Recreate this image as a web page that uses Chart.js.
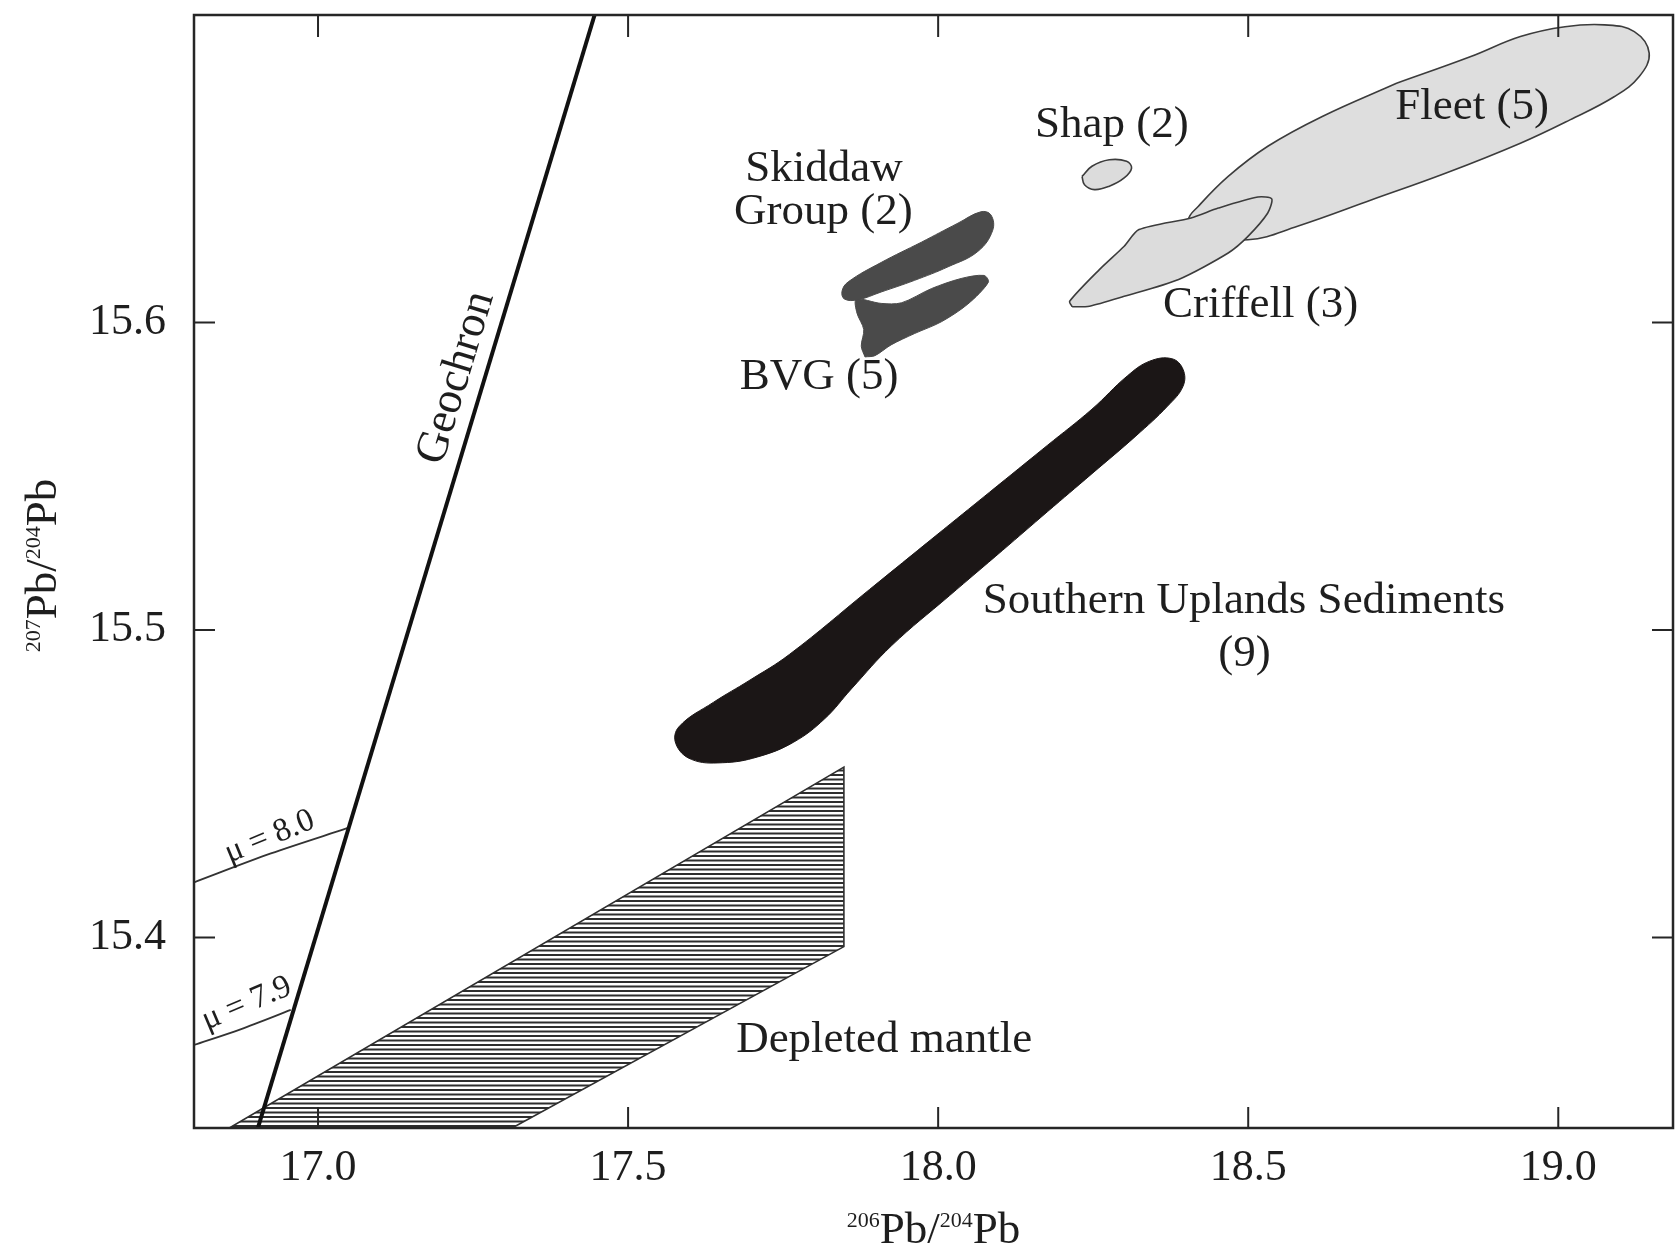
<!DOCTYPE html>
<html>
<head>
<meta charset="utf-8">
<title>Pb isotope fields</title>
<script src="https://cdn.jsdelivr.net/npm/chart.js@4.4.1/dist/chart.umd.min.js"></script>
<style>
  html, body { margin: 0; padding: 0; background: #fff; }
  #wrap { width: 1679px; height: 1257px; }
</style>
</head>
<body>
<div id="wrap"><canvas id="pbChart"></canvas></div>
<script>
// axes
const xRange = [16.8, 19.185];
const yRange = [15.338, 15.70];
const xTicks = [17.0, 17.5, 18.0, 18.5, 19.0];
const yTicks = [15.4, 15.5, 15.6];

// reference lines
const geochron = [{x: 16.903, y: 15.338}, {x: 17.446, y: 15.70}];
const mu80 = [{x: 16.8, y: 15.4179}, {x: 16.924, y: 15.4273}, {x: 17.047, y: 15.4355}];
const mu79 = [{x: 16.8, y: 15.365}, {x: 16.875, y: 15.3701}, {x: 16.956, y: 15.3764}];

// field outlines
const fleet = [
  {x: 18.7392, y: 15.6778}, {x: 18.6194, y: 15.6670}, {x: 18.5316, y: 15.6573}, {x: 18.4677, y: 15.6475},
  {x: 18.4197, y: 15.6378}, {x: 18.4038, y: 15.6334}, {x: 18.4197, y: 15.6291}, {x: 18.4996, y: 15.6269},
  {x: 18.5795, y: 15.6313}, {x: 18.6993, y: 15.6399}, {x: 18.8191, y: 15.6486}, {x: 18.9389, y: 15.6583},
  {x: 19.0188, y: 15.6659}, {x: 19.0907, y: 15.6735}, {x: 19.1306, y: 15.6800}, {x: 19.1466, y: 15.6876},
  {x: 19.1226, y: 15.6946}, {x: 19.0747, y: 15.6968}, {x: 19.0108, y: 15.6962}, {x: 18.9389, y: 15.6930},
  {x: 18.8590, y: 15.6865}
];
const criffell = [
  {x: 18.2161, y: 15.6051}, {x: 18.2121, y: 15.6069}, {x: 18.2600, y: 15.6172}, {x: 18.3000, y: 15.6248},
  {x: 18.3239, y: 15.6302}, {x: 18.4078, y: 15.6340}, {x: 18.4517, y: 15.6372}, {x: 18.5156, y: 15.6408},
  {x: 18.5379, y: 15.6402}, {x: 18.5315, y: 15.6356}, {x: 18.4996, y: 15.6280}, {x: 18.4677, y: 15.6226},
  {x: 18.3878, y: 15.6140}, {x: 18.3000, y: 15.6085}, {x: 18.2441, y: 15.6053}
];
const shap = [
  {x: 18.2320, y: 15.6475}, {x: 18.2360, y: 15.6448}, {x: 18.2520, y: 15.6432}, {x: 18.2760, y: 15.6443},
  {x: 18.3000, y: 15.6470}, {x: 18.3119, y: 15.6502}, {x: 18.3039, y: 15.6524}, {x: 18.2760, y: 15.6529},
  {x: 18.2480, y: 15.6508}
];
const skiddaw = [
  {x: 17.973, y: 15.6261}, {x: 18.032, y: 15.6323}, {x: 18.069, y: 15.6360}, {x: 18.085, y: 15.6350},
  {x: 18.088, y: 15.6300}, {x: 18.064, y: 15.6231}, {x: 18.016, y: 15.6181}, {x: 17.962, y: 15.6137},
  {x: 17.908, y: 15.6099}, {x: 17.871, y: 15.6074}, {x: 17.849, y: 15.6076}, {x: 17.845, y: 15.6102},
  {x: 17.855, y: 15.6132}, {x: 17.908, y: 15.6195}
];
const bvg = [
  {x: 17.882, y: 15.5888}, {x: 17.876, y: 15.5923}, {x: 17.880, y: 15.5977}, {x: 17.869, y: 15.6031},
  {x: 17.868, y: 15.6075}, {x: 17.908, y: 15.6062}, {x: 17.941, y: 15.6064}, {x: 17.989, y: 15.6110},
  {x: 18.037, y: 15.6143}, {x: 18.074, y: 15.6153}, {x: 18.081, y: 15.6131}, {x: 18.048, y: 15.6060},
  {x: 18.005, y: 15.6002}, {x: 17.962, y: 15.5964}, {x: 17.924, y: 15.5927}, {x: 17.898, y: 15.5892}
];
const uplands = [
  {x: 17.996, y: 15.5306}, {x: 18.083, y: 15.5448}, {x: 18.176, y: 15.5600}, {x: 18.248, y: 15.5718},
  {x: 18.305, y: 15.5826}, {x: 18.341, y: 15.5874}, {x: 18.377, y: 15.5882}, {x: 18.395, y: 15.5847},
  {x: 18.395, y: 15.5793}, {x: 18.370, y: 15.5728}, {x: 18.319, y: 15.5631}, {x: 18.248, y: 15.5508},
  {x: 18.176, y: 15.5384}, {x: 18.104, y: 15.5259}, {x: 18.018, y: 15.5111}, {x: 17.925, y: 15.4949},
  {x: 17.860, y: 15.4808}, {x: 17.817, y: 15.4711}, {x: 17.767, y: 15.4635}, {x: 17.709, y: 15.4587},
  {x: 17.652, y: 15.4568}, {x: 17.602, y: 15.4579}, {x: 17.577, y: 15.4630}, {x: 17.582, y: 15.4685},
  {x: 17.638, y: 15.4765}, {x: 17.695, y: 15.4835}, {x: 17.760, y: 15.4920}, {x: 17.889, y: 15.5131}
];
const depleted = [
  {x: 16.857, y: 15.338}, {x: 17.848, y: 15.4554}, {x: 17.848, y: 15.397}, {x: 17.313, y: 15.338}
];

// text labels (centres, data units)
const labelText = ['Skiddaw', 'Group (2)', 'BVG (5)', 'Shap (2)', 'Fleet (5)', 'Criffell (3)',
                   'Southern Uplands Sediments', '(9)', 'Depleted mantle'];
const labelX = [17.816, 17.815, 17.808, 18.280, 18.861, 18.520, 18.493, 18.494, 17.913];
const labelY = [15.6497, 15.636, 15.5821, 15.6643, 15.6701, 15.6055, 15.5094, 15.4922, 15.3666];
const geoLabel = {x: 17.223, y: 15.582};
const mu80Label = {x: 16.922, y: 15.4327};
const mu79Label = {x: 16.885, y: 15.3785};

const SERIF = '"Liberation Serif", "Times New Roman", serif';
const INK = '#1e1e1e';

const canvas = document.getElementById('pbChart');

// horizontal line hatching for the mantle field
function hatch() {
  const c = document.createElement('canvas');
  c.width = 8; c.height = 9;
  const g = c.getContext('2d');
  g.fillStyle = '#ffffff'; g.fillRect(0, 0, 8, 9);
  g.fillStyle = '#2e2e2e';
  g.fillRect(0, 0, 8, 2);
  g.fillRect(0, 4.5, 8, 2);
  return canvas.getContext('2d').createPattern(c, 'repeat');
}

function field(label, pts, bg, edge, width, tension, order) {
  return {
    label: label, data: pts.concat([pts[0]]), showLine: true, fill: 'shape',
    backgroundColor: bg, borderColor: edge, borderWidth: width,
    tension: tension, pointRadius: 0, order: order
  };
}
function line(label, pts, color, width) {
  return {
    label: label, data: pts, showLine: true, fill: false, borderColor: color,
    borderWidth: width, tension: 0.3, pointRadius: 0, order: 0
  };
}

function drawText(ctx, s, px, py, size, angle) {
  ctx.save();
  ctx.translate(px, py);
  if (angle) ctx.rotate(angle);
  ctx.font = size + 'px ' + SERIF;
  ctx.textAlign = 'center';
  ctx.textBaseline = 'middle';
  ctx.fillText(s, 0, 0);
  ctx.restore();
}

// ratio title with raised mass numbers
function isoTitle(ctx, a, b, cx, cy, rot) {
  const big = '45px ' + SERIF, small = '22px ' + SERIF;
  const parts = [[a, small, -16], ['Pb/', big, 0], [b, small, -16], ['Pb', big, 0]];
  ctx.save();
  ctx.translate(cx, cy);
  ctx.rotate(rot);
  ctx.textAlign = 'left';
  ctx.textBaseline = 'alphabetic';
  let w = 0;
  parts.forEach(p => { ctx.font = p[1]; w += ctx.measureText(p[0]).width; });
  let x = -w / 2;
  parts.forEach(p => {
    ctx.font = p[1];
    ctx.fillText(p[0], x, p[2]);
    x += ctx.measureText(p[0]).width;
  });
  ctx.restore();
}

const frameAndLabels = {
  id: 'frameAndLabels',
  afterDraw(chart) {
    const ctx = chart.ctx, a = chart.chartArea;
    const xs = chart.scales.x, ys = chart.scales.y;
    ctx.save();
    ctx.strokeStyle = '#262626';
    ctx.lineWidth = 2.5;
    ctx.strokeRect(a.left, a.top, a.right - a.left, a.bottom - a.top);

    // inward tick marks on all four sides
    ctx.lineWidth = 2;
    ctx.beginPath();
    xTicks.forEach(v => {
      const px = xs.getPixelForValue(v);
      ctx.moveTo(px, a.bottom); ctx.lineTo(px, a.bottom - 21);
      ctx.moveTo(px, a.top); ctx.lineTo(px, a.top + 22);
    });
    yTicks.forEach(v => {
      const py = ys.getPixelForValue(v);
      ctx.moveTo(a.left, py); ctx.lineTo(a.left + 21, py);
      ctx.moveTo(a.right, py); ctx.lineTo(a.right - 21, py);
    });
    ctx.stroke();

    ctx.fillStyle = INK;
    labelText.forEach((s, i) => {
      drawText(ctx, s, xs.getPixelForValue(labelX[i]), ys.getPixelForValue(labelY[i]), 45, 0);
    });

    const gx0 = xs.getPixelForValue(geochron[0].x), gy0 = ys.getPixelForValue(geochron[0].y);
    const gx1 = xs.getPixelForValue(geochron[1].x), gy1 = ys.getPixelForValue(geochron[1].y);
    drawText(ctx, 'Geochron', xs.getPixelForValue(geoLabel.x), ys.getPixelForValue(geoLabel.y),
             45, Math.atan2(gy1 - gy0, gx1 - gx0));

    [[mu80, mu80Label, 'μ = 8.0'], [mu79, mu79Label, 'μ = 7.9']].forEach(m => {
      const p0 = m[0][0], p1 = m[0][m[0].length - 1];
      const ang = Math.atan2(ys.getPixelForValue(p1.y) - ys.getPixelForValue(p0.y),
                             xs.getPixelForValue(p1.x) - xs.getPixelForValue(p0.x)) - 0.05;
      drawText(ctx, m[2], xs.getPixelForValue(m[1].x), ys.getPixelForValue(m[1].y), 33, ang);
    });

    isoTitle(ctx, '206', '204', (a.left + a.right) / 2, 1243, 0);
    isoTitle(ctx, '207', '204', 56, (a.top + a.bottom) / 2 - 6, -Math.PI / 2);
    ctx.restore();
  }
};

new Chart(canvas, {
  type: 'scatter',
  data: {
    datasets: [
      line('Geochron', geochron, '#111111', 4),
      line('mu 8.0', mu80, '#333333', 1.8),
      line('mu 7.9', mu79, '#333333', 1.8),
      field('Skiddaw Group', skiddaw, '#4a4a4a', '#4a4a4a', 1, 0.4, 1),
      field('BVG', bvg, '#4a4a4a', '#4a4a4a', 1, 0.3, 1),
      field('Southern Uplands', uplands, '#1b1616', '#1b1616', 1, 0.4, 1),
      field('Criffell', criffell, '#dcdcdc', '#3c3c3c', 1.6, 0.25, 2),
      field('Shap', shap, '#dcdcdc', '#3c3c3c', 1.6, 0.4, 2),
      field('Fleet', fleet, '#dedede', '#3c3c3c', 1.6, 0.4, 3),
      field('Depleted mantle', depleted, hatch(), '#2e2e2e', 1.6, 0, 4)
    ]
  },
  options: {
    responsive: true,
    maintainAspectRatio: false,
    animation: false,
    layout: { padding: { top: 15, right: 6, bottom: 0, left: 0 } },
    plugins: { legend: { display: false }, tooltip: { enabled: false } },
    scales: {
      x: {
        type: 'linear', min: xRange[0], max: xRange[1],
        grid: { display: false, drawTicks: false },
        border: { display: false },
        afterBuildTicks: s => { s.ticks = xTicks.map(v => ({ value: v })); },
        afterFit: s => { s.height = 129; s.paddingLeft = 0; s.paddingRight = 0; },
        ticks: {
          padding: 14, color: INK,
          font: { family: SERIF, size: 44 },
          callback: v => Number(v).toFixed(1)
        }
      },
      y: {
        type: 'linear', min: yRange[0], max: yRange[1],
        grid: { display: false, drawTicks: false },
        border: { display: false },
        afterBuildTicks: s => { s.ticks = yTicks.map(v => ({ value: v })); },
        afterFit: s => { s.width = 194; s.paddingTop = 0; s.paddingBottom = 0; },
        ticks: {
          padding: 28, color: INK,
          font: { family: SERIF, size: 44 },
          callback: v => Number(v).toFixed(1)
        }
      }
    }
  },
  plugins: [frameAndLabels]
});
</script>
</body>
</html>
